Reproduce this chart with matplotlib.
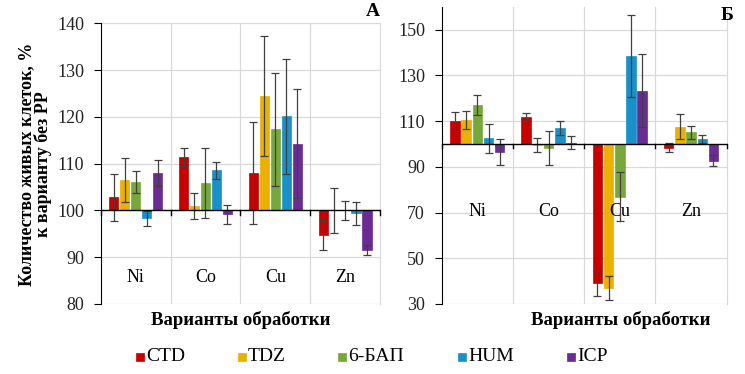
import matplotlib
matplotlib.use("Agg")
import matplotlib.pyplot as plt
import numpy as np
from matplotlib.patches import Rectangle

plt.rcParams['font.family'] = ['Liberation Serif', 'DejaVu Serif']

categories = ["Ni", "Co", "Cu", "Zn"]
series = ["CTD", "TDZ", "6-БАП", "HUM", "ICP"]
colors = ["#C80000", "#EBB000", "#78A83C", "#1A90C8", "#6A2C94"]

# Panel A values (% of control) and errors
a_vals = {
    "CTD":   [102.8, 111.4, 108.0, 94.7],
    "TDZ":   [106.5, 100.9, 124.5, 100.0],
    "6-БАП": [106.1, 105.9, 117.3, 100.0],
    "HUM":   [98.3, 108.6, 120.1, 99.4],
    "ICP":   [108.0, 99.2, 114.3, 91.5],
}
a_err = {
    "CTD":   [5.0, 2.0, 10.8, 3.2],
    "TDZ":   [4.6, 2.8, 12.8, 4.9],
    "6-БАП": [2.4, 7.5, 12.0, 2.0],
    "HUM":   [1.6, 1.8, 12.3, 2.5],
    "ICP":   [2.7, 2.0, 11.6, 1.1],
}
# Panel Б values and errors
b_vals = {
    "CTD":   [109.8, 111.8, 39.0, 98.3],
    "TDZ":   [110.5, 99.4, 36.9, 107.6],
    "6-БАП": [116.9, 98.1, 77.0, 105.0],
    "HUM":   [102.5, 107.0, 138.3, 102.2],
    "ICP":   [96.5, 100.6, 123.3, 92.7],
}
b_err = {
    "CTD":   [4.0, 1.6, 5.5, 2.0],
    "TDZ":   [4.1, 3.0, 5.3, 5.6],
    "6-БАП": [4.4, 7.4, 10.9, 3.0],
    "HUM":   [6.4, 3.0, 18.0, 1.7],
    "ICP":   [5.6, 3.0, 15.9, 2.4],
}

W, H = 745, 374
fig = plt.figure(figsize=(W / 100, H / 100), dpi=100)
axA = fig.add_axes([0.1352, 0.1872, 0.3749, 0.7505])
axB = fig.add_axes([0.5929, 0.1872, 0.3826, 0.7949])

def draw(ax, vals, errs, ylim, yticks, label_y, letter, letter_xy):
    x = np.arange(len(categories))
    step, width = 0.157, 0.133
    for i, s in enumerate(series):
        v = np.array(vals[s])
        e = np.array(errs[s])
        pos = x + (i - 2) * step
        ax.bar(pos, v - 100, bottom=100, width=width, color=colors[i],
               edgecolor=colors[i], linewidth=0.5, zorder=3)
        ax.errorbar(pos, v, yerr=e, fmt='none', ecolor='#404040',
                    elinewidth=0.9, capsize=3, capthick=0.9, zorder=4)
    ax.set_xlim(-0.5, 3.5)
    ax.set_ylim(*ylim)
    ax.set_yticks(yticks)
    ax.set_xticks([])
    for b in [0.5, 1.5, 2.5]:
        ax.axvline(b, color='#D9D9D9', lw=0.9, zorder=0)
    for t in yticks:
        ax.axhline(t, color='#D9D9D9', lw=0.9, zorder=0)
    ax.axhline(100, color='black', lw=1.0, zorder=5)
    for b in [-0.5, 0.5, 1.5, 2.5, 3.5]:
        ax.plot([b, b], [100, 100 - (ylim[1] - ylim[0]) * 0.015], color='black',
                lw=1.0, zorder=5, clip_on=False)
    for i, c in enumerate(categories):
        ax.text(i, label_y, c, ha='center', va='center', fontsize=13)
    ax.spines['top'].set_visible(False)
    ax.spines['right'].set_color('#D9D9D9')
    ax.spines['bottom'].set_visible(False)
    ax.spines['left'].set_color('black')
    ax.tick_params(axis='y', labelsize=13, length=5, direction='out', pad=7,
                   colors='black', labelcolor='#222222')
    fig.text(letter_xy[0] / W, 1 - letter_xy[1] / H, letter, fontsize=14,
             fontweight='bold', ha='center', va='center')

draw(axA, a_vals, a_err, (80, 140), [80, 90, 100, 110, 120, 130, 140], 85.6, "А", (373, 12))
draw(axB, b_vals, b_err, (30, 160), [30, 50, 70, 90, 110, 130, 150], 70.4, "Б", (727, 15))

fig.text(35 / W, 1 - 164.5 / H, "Количество живых клеток, %\nк варианту без РР",
         rotation=90, ha='center', va='center', fontsize=13, fontweight='bold',
         linespacing=0.95)
fig.text(240.5 / W, 1 - 320 / H, "Варианты обработки", ha='center', va='center',
         fontsize=13.5, fontweight='bold')
fig.text(620.5 / W, 1 - 320 / H, "Варианты обработки", ha='center', va='center',
         fontsize=13.5, fontweight='bold')

# legend (manual placement matching the reference)
leg_x = [136, 238, 338, 458, 567]
leg_y = 356.5
sq = 8
for xpix, c, s in zip(leg_x, colors, series):
    fig.add_artist(Rectangle((xpix / W, 1 - (leg_y + sq / 2) / H), sq / W, sq / H,
                             transform=fig.transFigure, facecolor=c, edgecolor=c,
                             lw=0.5))
    fig.text((xpix + 10) / W, 1 - leg_y / H, s, ha='left', va='center',
             fontsize=14)

fig.savefig("out.png", dpi=100)
